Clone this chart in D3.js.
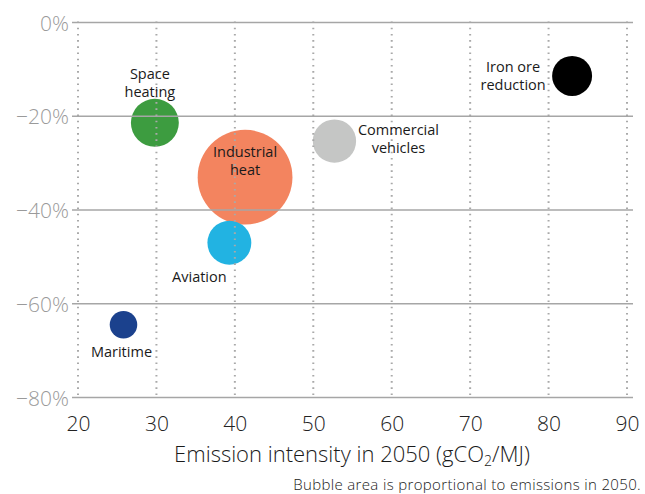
<!DOCTYPE html>
<html><head><meta charset="utf-8">
<script src="https://cdn.jsdelivr.net/npm/d3@7"></script>
<style>body{margin:0;background:#fff}svg{display:block}text{font-family:"Open Sans","Noto Sans",sans-serif}</style>
</head><body><svg id="c" width="645" height="494"></svg>
<script>
const sectors = ["Space heating","Industrial heat","Aviation","Commercial vehicles","Iron ore reduction","Maritime"];
const intensity = [29.8, 41.3, 39.3, 52.7, 83.0, 25.8];
const reduction = [-21.4, -33.0, -47.0, -25.3, -11.4, -64.5];
const emissions = [2.3, 9.0, 1.93, 1.88, 1.6, 0.76];
const colors = ["#3d9c40","#f3845f","#22b3e2","#c5c6c5","#000000","#1b418d"];
const xTicks = [20,30,40,50,60,70,80,90];
const yTicks = [0,-20,-40,-60,-80];

const svg = d3.select("#c");
const x = d3.scaleLinear().domain([20,90]).range([78,627]);
const y = d3.scaleLinear().domain([0,-80]).range([22.5,397.5]);
const r = d3.scaleSqrt().domain([0,9]).range([0,47.4]);

// label layout (offsets relative to bubble center)
const labelLines = [["Space","heating"],["Industrial","heat"],["Aviation"],["Commercial","vehicles"],["Iron ore","reduction"],["Maritime"]];
const labelOff = [[-5,-40],[0,-16],[-30,34],[64,-2],[-59,0],[-2,27]];

const data = sectors.map((s,i)=>({s,x:intensity[i],y:reduction[i],e:emissions[i],c:colors[i],lines:labelLines[i],off:labelOff[i]}));

svg.append("g").selectAll("circle").data(data).join("circle")
  .attr("cx",d=>x(d.x)).attr("cy",d=>y(d.y)).attr("r",d=>r(d.e)).attr("fill",d=>d.c);

// grid
const grid = svg.append("g");
grid.selectAll("line.v").data(xTicks).join("line").attr("class","v")
  .attr("x1",d=>x(d)).attr("x2",d=>x(d)).attr("y1",y(0)-1).attr("y2",y(-80))
  .attr("stroke","#a9a9a9").attr("stroke-width",2).attr("stroke-dasharray","1.6,4.6");
grid.selectAll("line.h").data(yTicks).join("line").attr("class","h")
  .attr("x1",72).attr("x2",633).attr("y1",d=>y(d)).attr("y2",d=>y(d))
  .attr("stroke","#a6a6a6").attr("stroke-width",1.5);

// axes
const yAxis = d3.axisLeft(y).tickValues(yTicks).tickSize(0).tickPadding(0)
  .tickFormat(d=> (d<0?"\u2212":"")+Math.abs(d)+"%");
const ya = svg.append("g").attr("transform","translate(69,0)").call(yAxis);
ya.select(".domain").remove();
ya.selectAll("text").attr("font-size",21).attr("font-weight",300).attr("fill","#9a9a9a").attr("dy","0.36em");

const xAxis = d3.axisBottom(x).tickValues(xTicks).tickSize(0).tickPadding(0);
const xa = svg.append("g").attr("transform","translate(0,416)").call(xAxis);
xa.select(".domain").remove();
xa.selectAll("text").attr("font-size",21).attr("font-weight",300).attr("fill","#222").attr("dy","0.71em");

// labels
const lg = svg.append("g").selectAll("text").data(data).join("text")
  .attr("text-anchor","middle").attr("font-size",14.5).attr("font-weight",400).attr("fill","#1a1a1a");
lg.each(function(d){
  const t=d3.select(this);
  const n=d.lines.length;
  d.lines.forEach((l,i)=>{
    t.append("tspan").attr("x",x(d.x)+d.off[0]).attr("y",y(d.y)+d.off[1]+(i-(n-1)/2)*18+5).text(l);
  });
});

const title = svg.append("text").attr("x",352).attr("y",462).attr("text-anchor","middle")
  .attr("font-size",22).attr("font-weight",300).attr("fill","#1a1a1a");
title.append("tspan").text("Emission intensity in 2050 (gCO");
title.append("tspan").attr("font-size",14).attr("dy",4).text("2");
title.append("tspan").attr("dy",-4).text("/MJ)");

svg.append("text").attr("x",641).attr("y",490).attr("text-anchor","end")
  .attr("font-size",15).attr("letter-spacing",0.35).attr("font-weight",300).attr("fill","#1a1a1a").text("Bubble area is proportional to emissions in 2050.");
</script></body></html>
